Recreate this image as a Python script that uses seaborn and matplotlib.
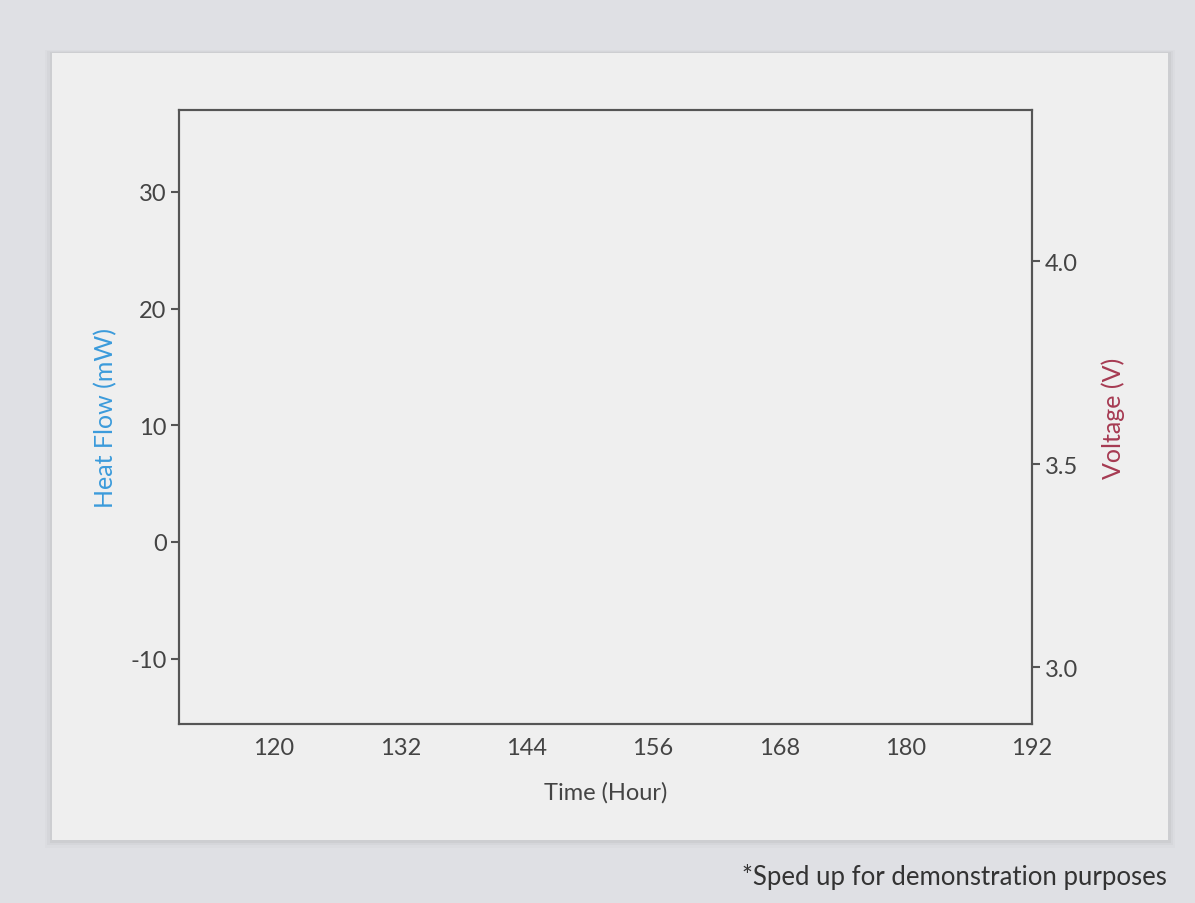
"""
Empty heat-flow / voltage frame (time axis in hours), twin y-axes.
"""

import matplotlib.pyplot as plt
import seaborn as sns
from matplotlib.patches import Rectangle

# ------------------------------------------------------------
# DATA — no trace has been drawn yet, only the frame
# ------------------------------------------------------------
time_hours = []
heat_flow_mw = []
voltage_v = []

time_ticks = [120, 132, 144, 156, 168, 180, 192]
heat_ticks = [-10, 0, 10, 20, 30]
volt_ticks = [3.0, 3.5, 4.0]

time_range = (111, 192)
heat_range = (-15.6, 37)
volt_range = (2.86, 4.372)

FOOTNOTE = "*Sped up for demonstration purposes"

HEAT_COLOR = "#3b9bdb"
VOLT_COLOR = "#a63a52"
INK = "#444444"
SPINE = "#555555"
CARD = "#efefef"


def main():
    sns.set_style("white")
    plt.rcParams["font.family"] = ["Lato", "DejaVu Sans"]
    plt.rcParams["axes.unicode_minus"] = False

    fig = plt.figure(figsize=(11.95, 9.04), dpi=100)
    fig.patch.set_facecolor("#dfe0e4")

    # card with a soft shadow, kept behind the axes
    for i, a in enumerate([0.035, 0.025, 0.015]):
        d = 0.002 * (i + 1)
        fig.patches.append(Rectangle((0.0435 - d, 0.0697 - 1.5 * d), 0.934 + 2 * d, 0.8706 + 2 * d,
                                     transform=fig.transFigure, facecolor="black",
                                     alpha=a, edgecolor="none", zorder=-3))
    fig.patches.append(Rectangle((0.0435, 0.0697), 0.934, 0.8706, transform=fig.transFigure,
                                 facecolor=CARD, edgecolor="none", zorder=-2))

    ax = fig.add_axes([0.1498, 0.198, 0.7138, 0.679])
    ax.set_facecolor(CARD)
    ax2 = ax.twinx()

    sns.lineplot(x=time_hours, y=heat_flow_mw, ax=ax, color=HEAT_COLOR)
    sns.lineplot(x=time_hours, y=voltage_v, ax=ax2, color=VOLT_COLOR)

    ax.set_xlim(*time_range)
    ax.set_ylim(*heat_range)
    ax2.set_ylim(*volt_range)

    ax.set_xticks(time_ticks)
    ax.set_yticks(heat_ticks)
    ax2.set_yticks(volt_ticks)
    ax2.set_yticklabels([f"{v:.1f}" for v in volt_ticks])

    for a in (ax, ax2):
        for s in a.spines.values():
            s.set_visible(True)
            s.set_color(SPINE)
            s.set_linewidth(1.5)
        a.tick_params(direction="out", length=6, width=1.5, color=SPINE,
                      labelcolor=INK, labelsize=17, pad=3)
    ax.tick_params(axis="x", length=7, pad=2)
    ax2.tick_params(axis="x", length=0)

    ax.set_xlabel("Time (Hour)", fontsize=17, color=INK, labelpad=17)
    ax.set_ylabel("Heat Flow (mW)", fontsize=18, color=HEAT_COLOR, labelpad=9)
    ax2.set_ylabel("Voltage (V)", fontsize=18, color=VOLT_COLOR, labelpad=17)

    fig.text(0.9765, 0.030, FOOTNOTE, ha="right", va="center", fontsize=18.5, color="#333333")

    fig.savefig("out.png", dpi=100, facecolor=fig.get_facecolor())
    plt.close(fig)


if __name__ == "__main__":
    main()
